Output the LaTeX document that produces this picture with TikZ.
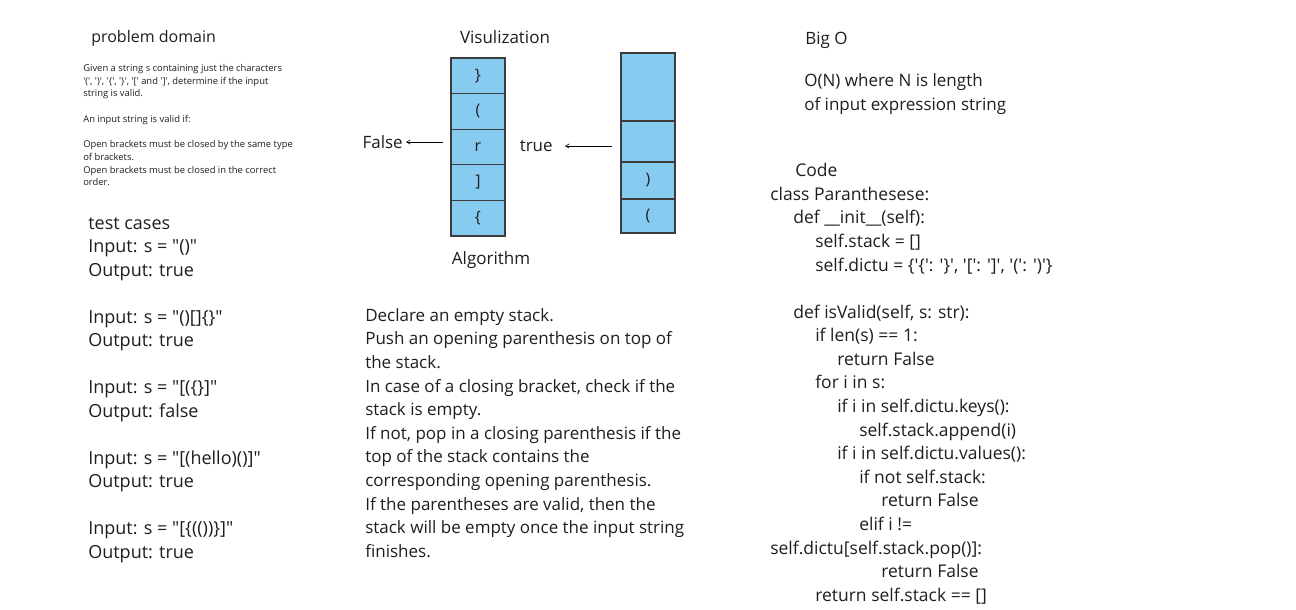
\documentclass[tikz,border=0pt]{standalone}
\usepackage{fontspec}
\setmainfont{Open Sans}
\usetikzlibrary{arrows,matrix,positioning}

\definecolor{ink}{RGB}{30,30,30}
\definecolor{stackblue}{RGB}{135,203,240}
\definecolor{stackline}{RGB}{60,60,60}
\newcommand{\tq}{\textquotesingle}
\newcommand{\dq}{\textquotedbl}
\newcommand{\ind}[1]{\hspace*{#1pt}}

\begin{document}
\begin{tikzpicture}[x=1pt,y=-1pt,->,>=angle 60,semithick,
    txt/.style={anchor=north west,align=left,inner sep=0pt,text=ink,
                font=\fontsize{17}{23.5}\selectfont},
    small/.style={txt,font=\fontsize{9.4}{12.7}\selectfont},
    head/.style={inner sep=0pt,text=ink,font=\fontsize{17}{20}\selectfont},
    cell/.style={draw=stackline,fill=stackblue,line width=1.2pt,
                 minimum width=54pt,minimum height=35.6pt,inner sep=0pt,
                 text=ink,font=\fontsize{16}{16}\selectfont}]
  \useasboundingbox (0,0) rectangle (1296,610);

  % problem domain
  \node[head,anchor=west,font=\fontsize{16}{20}\selectfont] (domain) at (91,38) {problem domain};
  \node[small] (given) at (83,64) {Given a string s containing just the characters\\
    \tq(\tq, \tq)\tq, \tq\{\tq, \tq\}\tq, \tq[\tq\ and \tq]\tq, determine if the input\\
    string is valid.\\[12.7pt]
    An input string is valid if:\\[12.7pt]
    Open brackets must be closed by the same type\\
    of brackets.\\
    Open brackets must be closed in the correct\\
    order.};

  % test cases
  \node[txt,font=\fontsize{18}{23.5}\selectfont] (tests) at (88,217) {test cases\\
    Input: s = \dq()\dq\\
    Output: true\\[23.5pt]
    Input: s = \dq()[]\{\}\dq\\
    Output: true\\[23.5pt]
    Input: s = \dq[(\{\}]\dq\\
    Output: false\\[23.5pt]
    Input: s = \dq[(hello)()]\dq\\
    Output: true\\[23.5pt]
    Input: s = \dq[\{(())\}]\dq\\
    Output: true};

  % visualization
  \node[head] (visu) at (505,37) {Visulization};

  \matrix (lstack) [matrix of nodes,row sep=-1.2pt,inner sep=0pt,
                    nodes={cell},anchor=north west] at (450,57) {
    \} \\
    ( \\
    r \\
    ] \\
    \{ \\
  };

  \matrix (rstack) [matrix of nodes,row sep=-1.2pt,inner sep=0pt,
                    nodes={cell},anchor=north west] at (620,52) {
    |[minimum height=68pt]| \phantom{)} \\
    |[minimum height=41pt]| \phantom{)} \\
    |[minimum height=37pt]| ) \\
    |[minimum height=34pt]| ( \\
  };

  \node[head,anchor=east] (false) at (403,142) {False};
  \node[head,anchor=east] (true) at (553,146) {true};
  \coordinate (ftail) at (443,142);
  \coordinate (ttail) at (612,146);

  \draw[shorten >=3pt] (ftail) -- (false);
  \draw[shorten >=12pt] (ttail) -- (true);

  \node[head] (algo) at (491,260) {Algorithm};

  \node[txt,font=\fontsize{17}{23.6}\selectfont] (steps) at (365,308) {Declare an empty stack.\\
    Push an opening parenthesis on top of\\
    the stack.\\
    In case of a closing bracket, check if the\\
    stack is empty.\\
    If not, pop in a closing parenthesis if the\\
    top of the stack contains the\\
    corresponding opening parenthesis.\\
    If the parentheses are valid, then the\\
    stack will be empty once the input string\\
    finishes.};

  % big O
  \node[head,anchor=west] (bigo) at (805,40) {Big O};
  \node[txt,font=\fontsize{17}{24}\selectfont] (order) at (804,73) {O(N) where N is length\\
    of input expression string};

  % code
  \node[txt,font=\fontsize{17.5}{23.6}\selectfont] (code) at (770,163) {\ind{25}Code\\
    class Paranthesese:\\
    \ind{23}def \_\_init\_\_(self):\\
    \ind{45}self.stack = []\\
    \ind{45}self.dictu = \{\tq\{\tq: \tq\}\tq, \tq[\tq: \tq]\tq, \tq(\tq: \tq)\tq\}\\[23.5pt]
    \ind{23}def isValid(self, s: str):\\
    \ind{45}if len(s) == 1:\\
    \ind{67}return False\\
    \ind{45}for i in s:\\
    \ind{67}if i in self.dictu.keys():\\
    \ind{89}self.stack.append(i)\\
    \ind{67}if i in self.dictu.values():\\
    \ind{89}if not self.stack:\\
    \ind{111}return False\\
    \ind{89}elif i !=\\
    self.dictu[self.stack.pop()]:\\
    \ind{111}return False\\
    \ind{45}return self.stack == []};
\end{tikzpicture}
\end{document}
